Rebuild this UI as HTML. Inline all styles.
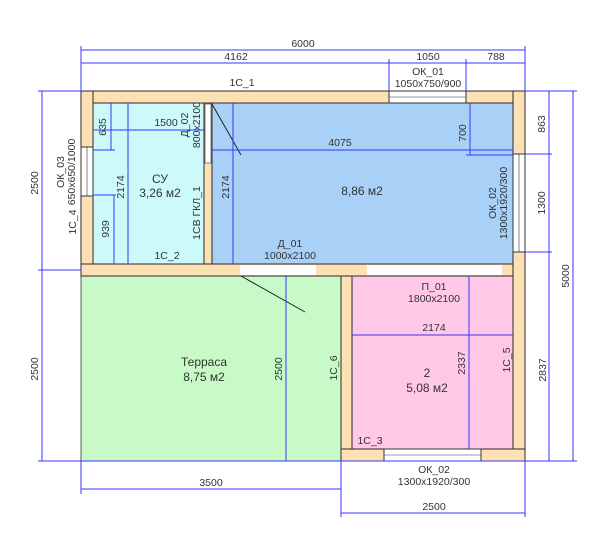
<!DOCTYPE html>
<html><head><meta charset="utf-8"><style>
html,body{margin:0;padding:0;background:#fff}
svg{display:block}
text{font-family:"Liberation Sans",sans-serif;font-size:10.5px;fill:#333}
.d{stroke:#3535ff;stroke-width:1;fill:none}
.w{fill:#fde0b4;stroke:#2a2a2a;stroke-width:1}
.win{fill:#fff;stroke:#333;stroke-width:1}
.b{font-size:12px}
</style></head><body>
<svg width="600" height="545" viewBox="0 0 600 545" xmlns="http://www.w3.org/2000/svg">
<rect x="93" y="103" width="111" height="161" fill="#ccfafa"/>
<rect x="212" y="103" width="301" height="161" fill="#a9d1f7"/>
<rect x="81" y="276" width="260" height="185" fill="#c8fac8" stroke="#333" stroke-width="0.8"/>
<rect x="352" y="276" width="161" height="173" fill="#ffc8e6"/>
<rect class="w" x="81" y="91" width="444" height="12"/>
<rect class="w" x="81" y="91" width="12" height="185"/>
<rect class="w" x="513" y="91" width="12" height="370"/>
<rect class="w" x="81" y="264" width="432" height="12"/>
<rect class="w" x="204" y="103" width="8" height="161"/>
<rect class="w" x="341" y="276" width="11" height="185"/>
<rect class="w" x="341" y="449" width="184" height="12"/>
<rect class="win" x="389" y="91" width="77" height="12"/><line x1="389" y1="97" x2="466" y2="97" stroke="#333" stroke-width="0.6"/>
<rect class="win" x="81" y="147" width="12" height="49"/><line x1="87" y1="147" x2="87" y2="196" stroke="#333" stroke-width="0.6"/>
<rect class="win" x="513" y="154" width="12" height="98"/><line x1="519" y1="154" x2="519" y2="252" stroke="#333" stroke-width="0.6"/>
<rect class="win" x="384" y="449" width="97" height="12"/><line x1="384" y1="455" x2="481" y2="455" stroke="#333" stroke-width="0.6"/>
<rect x="205" y="104" width="6" height="59" fill="#fff" stroke="#333" stroke-width="0.6"/>
<rect x="240" y="265" width="76" height="10" fill="#fff"/>
<rect x="367" y="265" width="135" height="10" fill="#fff"/>
<line x1="240" y1="264" x2="316" y2="264" stroke="#2a2a2a"/><line x1="240" y1="276" x2="316" y2="276" stroke="#2a2a2a"/>
<line x1="367" y1="264" x2="502" y2="264" stroke="#2a2a2a"/><line x1="367" y1="276" x2="502" y2="276" stroke="#2a2a2a"/>
<line x1="212" y1="104" x2="241" y2="155" stroke="#222"/>
<line x1="241" y1="276" x2="305" y2="312" stroke="#222"/>
<g class="d">
<line x1="81" y1="46" x2="81" y2="91"/><line x1="525" y1="46" x2="525" y2="91"/>
<line x1="389" y1="59" x2="389" y2="91"/><line x1="466" y1="59" x2="466" y2="91"/>
<line x1="81" y1="50" x2="525" y2="50"/>
<line x1="81" y1="63" x2="525" y2="63"/>
<line x1="38" y1="91" x2="81" y2="91"/><line x1="38" y1="270" x2="81" y2="270"/>
<line x1="38" y1="461" x2="577" y2="461"/>
<line x1="42" y1="91" x2="42" y2="461"/>
<line x1="525" y1="91" x2="577" y2="91"/>
<line x1="525" y1="154" x2="552" y2="154"/><line x1="525" y1="252" x2="552" y2="252"/>
<line x1="549" y1="91" x2="549" y2="461"/>
<line x1="573" y1="91" x2="573" y2="461"/>
<line x1="81" y1="461" x2="81" y2="494"/><line x1="341" y1="461" x2="341" y2="517"/><line x1="525" y1="461" x2="525" y2="517"/>
<line x1="81" y1="489" x2="341" y2="489"/>
<line x1="341" y1="513" x2="525" y2="513"/>
<line x1="111" y1="103" x2="111" y2="150"/><line x1="93" y1="150" x2="115" y2="150"/>
<line x1="93" y1="130" x2="204" y2="130"/>
<line x1="128" y1="103" x2="128" y2="264"/>
<line x1="114" y1="195" x2="114" y2="264"/><line x1="93" y1="195" x2="116" y2="195"/>
<line x1="233" y1="103" x2="233" y2="264"/>
<line x1="212" y1="150" x2="513" y2="150"/>
<line x1="470" y1="103" x2="470" y2="155"/><line x1="466" y1="155" x2="513" y2="155"/>
<line x1="286" y1="276" x2="286" y2="461"/>
<line x1="352" y1="335" x2="513" y2="335"/>
<line x1="469" y1="276" x2="469" y2="449"/>
</g>
<text x="303" y="47" text-anchor="middle">6000</text>
<text x="236" y="60" text-anchor="middle">4162</text>
<text x="428" y="60" text-anchor="middle">1050</text>
<text x="496" y="60" text-anchor="middle">788</text>
<text x="242" y="86" text-anchor="middle" font-size="9.5">1С_1</text>
<text x="428" y="75" text-anchor="middle" font-size="9.5">ОК_01</text>
<text x="428" y="87" text-anchor="middle" font-size="9.5">1050х750/900</text>
<text x="166" y="126" text-anchor="middle">1500</text>
<text x="340" y="146" text-anchor="middle">4075</text>
<text x="160" y="183" text-anchor="middle" class="b">СУ</text>
<text x="160" y="197" text-anchor="middle" class="b">3,26 м2</text>
<text x="362" y="195" text-anchor="middle" class="b">8,86 м2</text>
<text x="167" y="259" text-anchor="middle" font-size="9.5">1С_2</text>
<text x="290" y="247" text-anchor="middle" font-size="9.5">Д_01</text>
<text x="290" y="259" text-anchor="middle" font-size="9.5">1000х2100</text>
<text x="434" y="290" text-anchor="middle" font-size="9.5">П_01</text>
<text x="434" y="302" text-anchor="middle" font-size="9.5">1800х2100</text>
<text x="434" y="331" text-anchor="middle">2174</text>
<text x="427" y="377" text-anchor="middle" class="b">2</text>
<text x="427" y="392" text-anchor="middle" class="b">5,08 м2</text>
<text x="204" y="366" text-anchor="middle" class="b">Терраса</text>
<text x="204" y="381" text-anchor="middle" class="b">8,75 м2</text>
<text x="370" y="444" text-anchor="middle" font-size="9.5">1С_3</text>
<text x="434" y="473" text-anchor="middle" font-size="9.5">ОК_02</text>
<text x="434" y="485" text-anchor="middle" font-size="9.5">1300х1920/300</text>
<text x="211" y="486" text-anchor="middle">3500</text>
<text x="434" y="510" text-anchor="middle">2500</text>
<text transform="translate(38,183) rotate(-90)" text-anchor="middle">2500</text>
<text transform="translate(38,369) rotate(-90)" text-anchor="middle">2500</text>
<text transform="translate(106,127) rotate(-90)" text-anchor="middle">635</text>
<text transform="translate(124,187) rotate(-90)" text-anchor="middle">2174</text>
<text transform="translate(109,229) rotate(-90)" text-anchor="middle">939</text>
<text transform="translate(64,172) rotate(-90)" text-anchor="middle" font-size="9">ОК_03</text>
<text transform="translate(75,172) rotate(-90)" text-anchor="middle" font-size="9">650х650/1000</text>
<text transform="translate(76,222) rotate(-90)" text-anchor="middle" font-size="9.5">1С_4</text>
<text transform="translate(188,125) rotate(-90)" text-anchor="middle" font-size="9">Д_02</text>
<text transform="translate(200,125) rotate(-90)" text-anchor="middle" font-size="9">800х2100</text>
<text transform="translate(200,213) rotate(-90)" text-anchor="middle" font-size="9.5">1СВ ГКЛ_1</text>
<text transform="translate(229,187) rotate(-90)" text-anchor="middle">2174</text>
<text transform="translate(466,133) rotate(-90)" text-anchor="middle">700</text>
<text transform="translate(496,203) rotate(-90)" text-anchor="middle" font-size="9.5">ОК_02</text>
<text transform="translate(507,203) rotate(-90)" text-anchor="middle" font-size="9.5">1300х1920/300</text>
<text transform="translate(545,124) rotate(-90)" text-anchor="middle">863</text>
<text transform="translate(545,203) rotate(-90)" text-anchor="middle">1300</text>
<text transform="translate(546,370) rotate(-90)" text-anchor="middle">2837</text>
<text transform="translate(569,276) rotate(-90)" text-anchor="middle">5000</text>
<text transform="translate(282,369) rotate(-90)" text-anchor="middle">2500</text>
<text transform="translate(337,368) rotate(-90)" text-anchor="middle" font-size="9.5">1С_6</text>
<text transform="translate(465,363) rotate(-90)" text-anchor="middle">2337</text>
<text transform="translate(510,360) rotate(-90)" text-anchor="middle" font-size="9.5">1С_5</text>
</svg>
</body></html>
